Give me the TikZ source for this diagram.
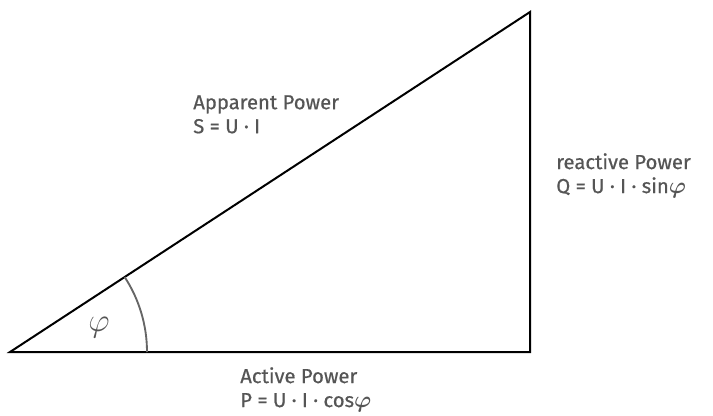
\documentclass[tikz,border=0pt]{standalone}
\usepackage{fontspec}
\setmainfont{Fira Sans}[FakeBold=0.6]
\definecolor{labelgray}{HTML}{555555}
\definecolor{arcgray}{HTML}{666666}
\tikzset{
  powerlabel/.style={anchor=north west, inner sep=0pt, align=left, text=labelgray,
    font=\fontsize{15.2}{18}\selectfont},
  anglelabel/.style={inner sep=0pt, text=labelgray, font=\fontsize{33}{33}\selectfont},
}
\newcommand{\phisym}{{\fontsize{18}{18}\selectfont\boldmath$\varphi$}}
\begin{document}
\begin{tikzpicture}[x=0.75pt, y=0.75pt]
    \useasboundingbox (0,0) rectangle (713,415);
    % corners of the power triangle
    \coordinate (O) at (10,63);
    \coordinate (P) at (530,63);
    \coordinate (Q) at (530,403);
    \draw[line width=1.5pt, line join=miter] (O) -- (P) -- (Q) -- cycle;
    % angle between S and P
    \draw[line width=1.4pt, color=arcgray] (147,63) arc[start angle=0, end angle=33.18, radius=137];
    \node[anglelabel] (phi) at (99,87) {$\varphi$};
    % labels of the three sides
    \node[powerlabel] (apparent) at (193,320) {Apparent Power\\S = U · I};
    \node[powerlabel] (reactive) at (556,262) {reactive Power\\Q = U · I · sin\phisym};
    \node[powerlabel] (active) at (240,48) {Active Power\\P = U · I · cos\phisym};
\end{tikzpicture}
\end{document}
